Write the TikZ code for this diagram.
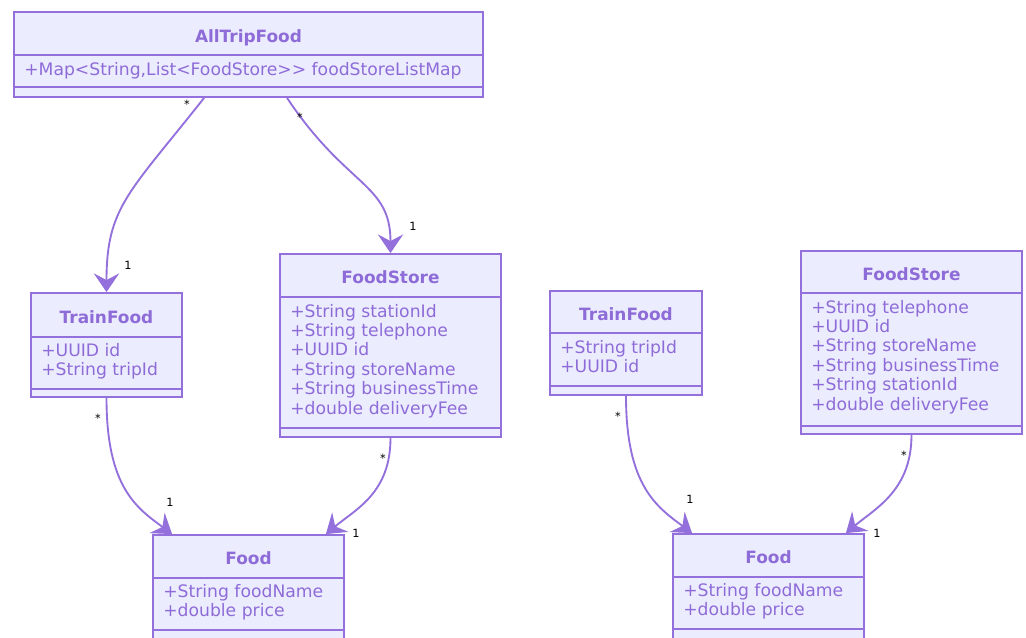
\documentclass[tikz,border=0pt]{standalone}
\usepackage{fontspec}
\setmainfont{DejaVu Sans}
\usetikzlibrary{fit,calc,arrows.meta}
\definecolor{boxfill}{HTML}{ECECFF}
\definecolor{boxline}{HTML}{9370DB}
\definecolor{txt}{HTML}{8E6CD8}
\tikzset{
  classbox/.style={draw=boxline, fill=boxfill, line width=1.4pt, inner sep=0pt},
  divider/.style={draw=boxline, line width=1.4pt},
  ctitle/.style={text=txt, font=\bfseries\fontsize{12.7}{15}\selectfont, inner sep=0pt, anchor=base},
  attr/.style={text=txt, font=\fontsize{12.9}{15}\selectfont, inner sep=0pt, anchor=base west},
  rel/.style={draw=boxline, line width=1.4pt, -{Stealth[length=14pt,width=19pt,inset=5pt]}},
  mult/.style={font=\fontsize{8.5}{10}\selectfont, text=black, inner sep=0pt}
}
\begin{document}
\begin{tikzpicture}[x=0.75pt,y=-0.75pt]
\clip (0,0) rectangle (1026,637);
\fill[white] (0,0) rectangle (1026,637);

% AllTripFood
\node[classbox, fit={(14,12) (483,97)}] (atf) {};
\draw[divider] (14,55) -- (483,55);
\draw[divider] (14,87) -- (483,87);
\node[ctitle] (atf-t) at (248.5,42) {AllTripFood};
\node[attr] (atf-a1) at (24,75) {+Map<String,List<FoodStore>{}> foodStoreListMap};

% TrainFood left
\node[classbox, fit={(31,293) (182,397)}] (tfl) {};
\draw[divider] (31,337) -- (182,337);
\draw[divider] (31,389) -- (182,389);
\node[ctitle] (tfl-t) at (106.5,323) {TrainFood};
\node[attr] (tfl-a1) at (41,356) {+UUID id};
\node[attr] (tfl-a2) at (41,375.4) {+String tripId};

% FoodStore left
\node[classbox, fit={(280,254) (501,437)}] (fsl) {};
\draw[divider] (280,297) -- (501,297);
\draw[divider] (280,428) -- (501,428);
\node[ctitle] (fsl-t) at (390.5,283.5) {FoodStore};
\node[attr] (fsl-a1) at (290,317) {+String stationId};
\node[attr] (fsl-a2) at (290,336.4) {+String telephone};
\node[attr] (fsl-a3) at (290,355.8) {+UUID id};
\node[attr] (fsl-a4) at (290,375.2) {+String storeName};
\node[attr] (fsl-a5) at (290,394.6) {+String businessTime};
\node[attr] (fsl-a6) at (290,414) {+double deliveryFee};

% TrainFood right
\node[classbox, fit={(550,291) (702,395)}] (tfr) {};
\draw[divider] (550,333) -- (702,333);
\draw[divider] (550,386) -- (702,386);
\node[ctitle] (tfr-t) at (626,320) {TrainFood};
\node[attr] (tfr-a1) at (560,353) {+String tripId};
\node[attr] (tfr-a2) at (560,372.4) {+UUID id};

% FoodStore right
\node[classbox, fit={(801,251) (1022,434)}] (fsr) {};
\draw[divider] (801,293) -- (1022,293);
\draw[divider] (801,426) -- (1022,426);
\node[ctitle] (fsr-t) at (911.5,280) {FoodStore};
\node[attr] (fsr-a1) at (811,313) {+String telephone};
\node[attr] (fsr-a2) at (811,332.4) {+UUID id};
\node[attr] (fsr-a3) at (811,351.8) {+String storeName};
\node[attr] (fsr-a4) at (811,371.2) {+String businessTime};
\node[attr] (fsr-a5) at (811,390.6) {+String stationId};
\node[attr] (fsr-a6) at (811,410) {+double deliveryFee};

% Food left
\node[classbox, fit={(153,535) (344,660)}] (fl) {};
\draw[divider] (153,578) -- (344,578);
\draw[divider] (153,630) -- (344,630);
\node[ctitle] (fl-t) at (248.5,564) {Food};
\node[attr] (fl-a1) at (163,597) {+String foodName};
\node[attr] (fl-a2) at (163,616.4) {+double price};

% Food right
\node[classbox, fit={(673,534) (864,660)}] (fr) {};
\draw[divider] (673,577) -- (864,577);
\draw[divider] (673,629) -- (864,629);
\node[ctitle] (fr-t) at (768.5,563) {Food};
\node[attr] (fr-a1) at (683,596) {+String foodName};
\node[attr] (fr-a2) at (683,615.4) {+double price};

% relations
\draw[rel] ($(atf.south west)+(191,0)$) .. controls +(-75,95) and +(0,-85) .. (tfl.north);
\draw[rel] ($(atf.south west)+(274,0)$) .. controls +(60,90) and +(0,-70) .. (fsl.north);
\draw[rel] (tfl.south) .. controls +(0,90) and +(-35,-26) .. ($(fl.north west)+(20,0)$);
\draw[rel] (fsl.south) .. controls +(0,55) and +(30,-25) .. ($(fl.north east)+(-19,0)$);
\draw[rel] (tfr.south) .. controls +(0,90) and +(-35,-26) .. ($(fr.north west)+(20,0)$);
\draw[rel] (fsr.south) .. controls +(0,55) and +(30,-25) .. ($(fr.north east)+(-19,0)$);

% multiplicities
\node[mult] (m1a) at (187,104) {*};
\node[mult] (m1b) at (128,265) {1};
\node[mult] (m2a) at (300,117) {*};
\node[mult] (m2b) at (413,226) {1};
\node[mult] (m3a) at (98,418) {*};
\node[mult] (m3b) at (170,502) {1};
\node[mult] (m4a) at (383,458) {*};
\node[mult] (m4b) at (356,533) {1};
\node[mult] (m5a) at (618,416) {*};
\node[mult] (m5b) at (690,499) {1};
\node[mult] (m6a) at (904,455) {*};
\node[mult] (m6b) at (877,533) {1};
\end{tikzpicture}
\end{document}
